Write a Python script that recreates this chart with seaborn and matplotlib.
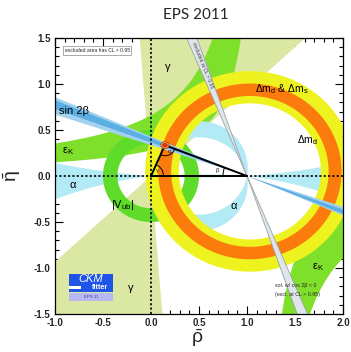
import numpy as np
import matplotlib
matplotlib.use("Agg")
import matplotlib.pyplot as plt
import seaborn as sns
import pandas as pd
from matplotlib.patches import Arc, Ellipse, Rectangle

# ---- constraint parameters in the (rho-bar, eta-bar) plane ----
gamma_range_deg = [43.0, 94.5]          # gamma = arg(z), both wedges (mod 180)
epsk_pole = 1.15                         # eps_K band: eta * (pole - rho) in range
epsk_range = [0.32, 0.76]
vub_radii = [0.35, 0.50]                 # |Vub| ring around the origin
dm_center = [1.03, 0.05]
dmd_radii = [0.74, 1.09]                 # Delta m_d ring
dmds_radii = [0.82, 0.955]               # Delta m_d & Delta m_s ring
alpha_ranges_deg = [[80, 100], [260, 280], [353, 360], [0, 4], [176, 184]]
beta_outer_deg = [18.5, 23.2]            # sin 2beta, 95% band
beta_inner_deg = [20.0, 22.4]            # sin 2beta, 68% band
beta_excl_deg = [67.2, 70.8]             # cos 2beta < 0 solution
apex = [0.145, 0.335]
apex_sizes = [[0.085, 0.075], [0.05, 0.042]]

band_labels = {
    "sin2b": (-0.96, 0.71, "sin 2β"),
    "gamma_top": (0.17, 1.18, "γ"),
    "dms": (1.08, 0.95, r"$\Delta$m$_d$ & $\Delta$m$_s$"),
    "dmd": (1.52, 0.39, r"$\Delta$m$_d$"),
    "epsk_left": (-0.93, 0.27, r"$\varepsilon_K$"),
    "alpha_left": (-0.81, -0.10, "α"),
    "vub": (-0.42, -0.31, r"|V$_{ub}$|"),
    "alpha_mid": (0.86, -0.33, "α"),
    "epsk_right": (1.68, -0.99, r"$\varepsilon_K$"),
    "gamma_bottom": (-0.21, -1.22, "γ"),
}

x_ticks = [-1.0, -0.5, 0.0, 0.5, 1.0, 1.5, 2.0]
y_ticks = [-1.5, -1.0, -0.5, 0.0, 0.5, 1.0, 1.5]

col = dict(
    gamma="#dae8a4", epsk="#7fe02c", vub="#5fdb2a", alpha="#b2eaf6",
    dmd="#eef21e", dms="#fb7c0c", excl="#dfe5e8", excl_edge="#98a2a8",
    beta_out="#a2d2f0", beta_in="#5cafe2",
)

sns.set_style("ticks")
plt.rcParams["font.family"] = ["Liberation Sans", "DejaVu Sans"]
plt.rcParams["mathtext.default"] = "regular"
plt.rcParams["axes.unicode_minus"] = False

fig = plt.figure(figsize=(3.51, 3.52), dpi=100)
ax = fig.add_axes([55 / 351, 1 - 314 / 352, 288 / 351, 276 / 352])
ax.set_xlim(-1.0, 2.0)
ax.set_ylim(-1.5, 1.5)

rho = np.linspace(-1.0, 2.0, 1201)
eta = np.linspace(-1.5, 1.5, 1201)
R, E = np.meshgrid(rho, eta)
Z = R + 1j * E


def fill_field(field, lo, hi, color, z):
    ax.contourf(R, E, field, levels=[lo, hi], colors=[color], zorder=z,
                antialiased=True)


def fill_mask(mask, color, z):
    fill_field(mask.astype(float), 0.5, 1.5, color, z)


# gamma wedges
gam = np.degrees(np.angle(Z)) % 180.0
fill_mask((gam >= gamma_range_deg[0]) & (gam <= gamma_range_deg[1]), col["gamma"], 1)

# eps_K hyperbolic band
fill_field(E * (epsk_pole - R), epsk_range[0], epsk_range[1], col["epsk"], 2)

# alpha
alp = np.degrees(np.angle((Z - 1.0) / np.where(Z == 0, 1e-9, Z))) % 360.0
amask = np.zeros_like(R, dtype=bool)
for lo, hi in alpha_ranges_deg:
    amask |= (alp >= lo) & (alp <= hi)
fill_mask(amask, col["alpha"], 3)

# |Vub|
fill_field(np.abs(Z), vub_radii[0], vub_radii[1], col["vub"], 4)

# Delta m rings
dz = np.abs(Z - (dm_center[0] + 1j * dm_center[1]))
fill_field(dz, dmd_radii[0], dmd_radii[1], col["dmd"], 5)
fill_field(dz, dmds_radii[0], dmds_radii[1], col["dms"], 6)

# beta field (mod 180) measured at (1, 0)
bet = (-np.degrees(np.angle(1.0 - Z))) % 180.0
fill_mask((bet >= beta_excl_deg[0]) & (bet <= beta_excl_deg[1]), col["excl"], 7)
for b in beta_excl_deg:
    t = np.radians(180.0 - b)
    ax.plot([1 - 3 * np.cos(t), 1 + 3 * np.cos(t)], [-3 * np.sin(t), 3 * np.sin(t)],
            color=col["excl_edge"], lw=0.6, zorder=7.5)
fill_mask((bet >= beta_outer_deg[0]) & (bet <= beta_outer_deg[1]), col["beta_out"], 8)
fill_mask((bet >= beta_inner_deg[0]) & (bet <= beta_inner_deg[1]), col["beta_in"], 9)

# text along the excluded solution
tb = np.radians(-np.mean(beta_excl_deg))
ang = np.degrees(np.arctan2(np.sin(tb) * 92, np.cos(tb) * 96))
ax.text(1 - 1.2 / np.tan(np.radians(np.mean(beta_excl_deg))), 1.2, "excluded at CL > 0.95",
        rotation=ang, rotation_mode="anchor", ha="center", va="center",
        fontsize=3.6, color="#444444", zorder=12)

# reference axes (dotted)
ax.axvline(0, color="black", lw=1.2, ls=(0, (1.3, 1.3)), zorder=10)
ax.axhline(0, color="black", lw=1.2, ls=(0, (1.3, 1.3)), zorder=10)

# unitarity triangle
tri = pd.DataFrame({"rho": [0.0, apex[0], 1.0, 0.0], "eta": [0.0, apex[1], 0.0, 0.0]})
sns.lineplot(data=tri, x="rho", y="eta", sort=False, color="black", lw=1.4,
             ax=ax, zorder=11, estimator=None)

sx = 96 / 92
a_o = np.degrees(np.arctan2(-apex[1], -apex[0])) % 360
a_r = np.degrees(np.arctan2(-apex[1], 1 - apex[0])) % 360
ax.add_patch(Arc(apex, 0.22, 0.22 * sx, theta1=a_o, theta2=a_r, color="black", lw=0.7, zorder=11))
g_ang = np.degrees(np.arctan2(apex[1], apex[0]))
ax.add_patch(Arc((0, 0), 0.26, 0.26 * sx, theta1=0, theta2=g_ang, color="black", lw=0.7, zorder=11))
b_ang = np.degrees(np.arctan2(apex[1], 1 - apex[0]))
ax.add_patch(Arc((1, 0), 0.5, 0.5 * sx, theta1=180 - b_ang, theta2=180, color="black", lw=0.7, zorder=11))
ax.text(apex[0] + 0.05, apex[1] - 0.07, "α", fontsize=4.5, zorder=12, ha="center", va="center")
ax.text(0.07, 0.06, "γ", fontsize=4.5, zorder=12, ha="center", va="center")
ax.text(0.69, 0.06, "β", fontsize=4.5, zorder=12, ha="center", va="center")

# global fit at the apex
ax.add_patch(Ellipse(apex, apex_sizes[0][0], apex_sizes[0][1], facecolor="#f6b83a",
                     edgecolor="#c0401a", lw=0.6, zorder=12))
ax.add_patch(Ellipse(apex, apex_sizes[1][0], apex_sizes[1][1], facecolor="#e2361c",
                     edgecolor="#b02010", lw=0.4, zorder=12))

# labels on the constraints
left_aligned = ("sin2b", "dms", "dmd", "epsk_left", "vub", "epsk_right")
for key, (x, y, s) in band_labels.items():
    fs = 8 if key not in ("dms", "dmd") else 7.5
    ax.text(x, y, s, fontsize=fs, ha="left" if key in left_aligned else "center",
            va="center", zorder=13, color="black")

# notes
ax.text(-0.9, 1.365, "excluded area has CL > 0.95", fontsize=3.6, va="center", ha="left", zorder=13,
        bbox=dict(boxstyle="square,pad=0.35", facecolor="white", edgecolor="#888888", lw=0.5))
ax.text(1.29, -1.19, "sol. w/ cos 2β < 0", fontsize=3.8, va="center", ha="left", zorder=13)
ax.text(1.29, -1.29, "(excl. at CL > 0.95)", fontsize=3.8, va="center", ha="left", zorder=13)

# CKMfitter logo
ax.add_patch(Rectangle((-0.855, -1.262), 0.46, 0.198, facecolor="#1f55e6", edgecolor="none", zorder=13))
ax.add_patch(Rectangle((-0.855, -1.36), 0.46, 0.09, facecolor="#b9b9f2", edgecolor="none", zorder=13))
ax.add_patch(Rectangle((-0.855, -1.232), 0.13, 0.035, facecolor="white", edgecolor="none", zorder=14))
ax.text(-0.625, -1.115, "CKM", fontsize=8, style="italic", color="white", ha="center", va="center", zorder=15)
ax.text(-0.53, -1.213, "fitter", fontsize=5.2, weight="bold", color="white", ha="center", va="center", zorder=15)
ax.text(-0.625, -1.318, "EPS 11", fontsize=3.2, color="#3040c0", ha="center", va="center", zorder=15)

# axes cosmetics
ax.set_xticks(x_ticks)
ax.set_yticks(y_ticks)
ax.set_xticklabels([f"{v:.1f}" for v in x_ticks])
ax.set_yticklabels([f"{v:.1f}" for v in y_ticks])
ax.set_xticks(np.arange(-1.0, 2.001, 0.1), minor=True)
ax.set_yticks(np.arange(-1.5, 1.501, 0.1), minor=True)
ax.tick_params(which="both", direction="in", top=True, right=True, color="black", width=0.8)
ax.tick_params(which="major", length=6, labelsize=7, pad=3)
ax.tick_params(which="minor", length=3)
for lab in ax.get_xticklabels() + ax.get_yticklabels():
    lab.set_fontweight("bold")
for sp in ax.spines.values():
    sp.set_visible(True)
    sp.set_color("black")
    sp.set_linewidth(0.9)
    sp.set_zorder(20)
ax.set_xlabel("")
ax.set_ylabel("")

fig.text(197 / 351, 1 - 338 / 352, r"$\bar{\rho}$", fontsize=14, ha="center", va="center")
fig.text(12 / 351, 1 - 176 / 352, r"$\bar{\eta}$", fontsize=14, ha="center", va="center", rotation=90)
fig.text(196 / 351, 1 - 15 / 352, "EPS 2011", fontsize=11, ha="center", va="center",
         family=["Lato", "DejaVu Sans"])

fig.savefig("out.png", dpi=100)
